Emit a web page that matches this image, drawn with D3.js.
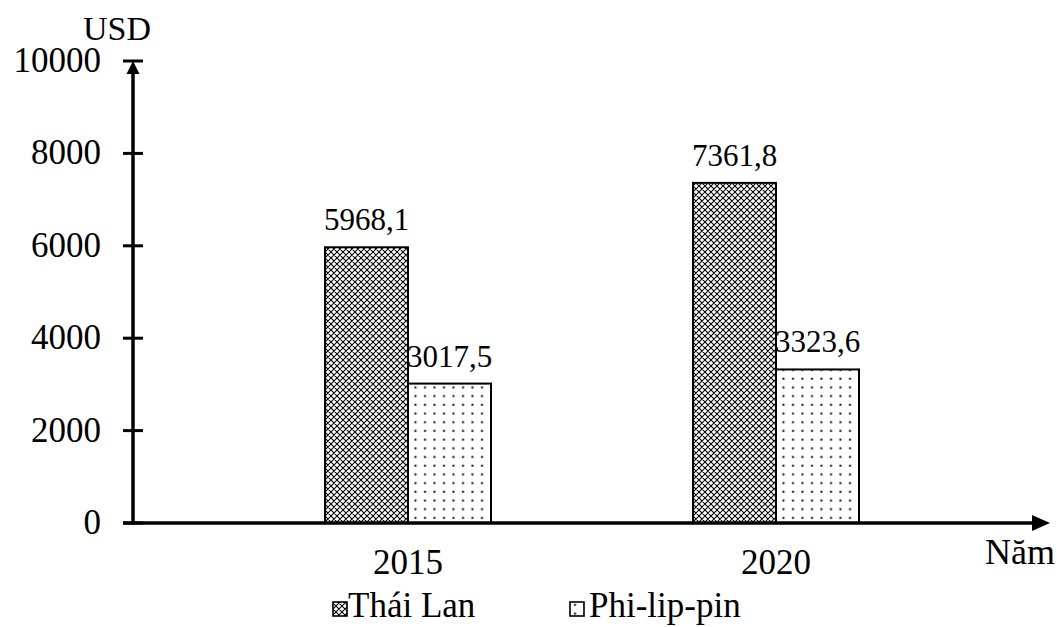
<!DOCTYPE html>
<html>
<head>
<meta charset="utf-8">
<script src="https://cdn.jsdelivr.net/npm/d3@7"></script>
<style>
  html, body { margin: 0; padding: 0; background: #fff; }
  svg { display: block; }
</style>
</head>
<body>
<svg id="chart" width="1057" height="627"></svg>
<script>
// GDP per capita (USD)
const years = ["2015", "2020"];
const seriesNames = ["Thái Lan", "Phi-lip-pin"];
const thaiLan = [5968.1, 7361.8];
const philippines = [3017.5, 3323.6];
const yTicks = [0, 2000, 4000, 6000, 8000, 10000];
const labelFmt = v => d3.format(".1f")(v).replace(".", ",");

const FONT = "Liberation Serif";
const svg = d3.select("#chart");

const x0 = 133, yBase = 523, yTop = 61;
const y = d3.scaleLinear().domain([0, 10000]).range([yBase, yTop]);
const x = d3.scaleBand().domain(years).range([224, 960]).padding(0);
const inner = d3.scaleBand().domain(seriesNames).range([0, 166]);
const barOffset = x.bandwidth() / 2 - 83;

// fill patterns
const defs = svg.append("defs");
const hatch = defs.append("pattern").attr("id", "pat-thai")
  .attr("patternUnits", "userSpaceOnUse").attr("width", 6).attr("height", 6);
hatch.append("rect").attr("width", 6).attr("height", 6).attr("fill", "#fff");
hatch.append("path").attr("d", "M0,0 L6,6 M6,0 L0,6 M-1,5 L1,7 M5,-1 L7,1 M-1,1 L1,-1 M5,7 L7,5")
  .attr("stroke", "#000").attr("stroke-width", 1.05);
hatch.append("rect").attr("x", 2.4).attr("y", 2.4).attr("width", 1.2).attr("height", 1.2).attr("fill", "#000");

const dots = defs.append("pattern").attr("id", "pat-phi")
  .attr("patternUnits", "userSpaceOnUse").attr("width", 9.5).attr("height", 8.7);
dots.append("rect").attr("width", 9.5).attr("height", 8.7).attr("fill", "#fff");
dots.append("rect").attr("x", 4).attr("y", 3.6).attr("width", 2).attr("height", 2).attr("fill", "#111");

const fills = { "Thái Lan": "url(#pat-thai)", "Phi-lip-pin": "url(#pat-phi)" };
const rows = years.map((yr, i) => ({ year: yr, values: [
  { name: seriesNames[0], v: thaiLan[i] },
  { name: seriesNames[1], v: philippines[i] }
]}));

function stext(sel, tx, ty, str, size, anchor) {
  return sel.append("text")
    .attr("x", tx).attr("y", ty)
    .attr("text-anchor", anchor || "middle")
    .attr("font-family", FONT)
    .attr("font-size", size)
    .attr("fill", "#000")
    .text(str);
}

// bars
const groups = svg.append("g").selectAll("g").data(rows).join("g")
  .attr("transform", d => `translate(${x(d.year) + barOffset},0)`);
groups.selectAll("rect").data(d => d.values).join("rect")
  .attr("x", d => inner(d.name))
  .attr("y", d => y(d.v))
  .attr("width", inner.bandwidth())
  .attr("height", d => yBase - y(d.v))
  .attr("fill", d => fills[d.name])
  .attr("stroke", "#000").attr("stroke-width", 2);

// value labels
groups.each(function (d) {
  const g = d3.select(this);
  d.values.forEach(v => {
    stext(g, inner(v.name) + inner.bandwidth() / 2, y(v.v) - 17, labelFmt(v.v), 31);
  });
});

// y axis with ticks crossing the line
svg.append("g").selectAll("line").data(yTicks).join("line")
  .attr("x1", x0 - 10).attr("x2", x0 + 10)
  .attr("y1", d => y(d)).attr("y2", d => y(d))
  .attr("stroke", "#000").attr("stroke-width", 3);
yTicks.forEach(t => stext(svg, 101, y(t) + 11, String(t), 35, "end"));

svg.append("line").attr("x1", x0).attr("x2", x0)
  .attr("y1", yBase + 1.5).attr("y2", yTop + 10)
  .attr("stroke", "#000").attr("stroke-width", 3.5);
svg.append("path")
  .attr("d", `M${x0},${yTop} L${x0 - 6.5},${yTop + 13} L${x0 + 6.5},${yTop + 13} Z`)
  .attr("fill", "#000");

// x axis
svg.append("line").attr("x1", x0 - 10).attr("x2", 1036)
  .attr("y1", yBase).attr("y2", yBase)
  .attr("stroke", "#000").attr("stroke-width", 3.5);
svg.append("path")
  .attr("d", `M1050,${yBase} L1032,${yBase - 8} L1032,${yBase + 8} Z`)
  .attr("fill", "#000");

years.forEach(yr => stext(svg, x(yr) + x.bandwidth() / 2, 574, yr, 35));

// axis titles
stext(svg, 83, 40, "USD", 34, "start");
stext(svg, 1055, 564, "Năm", 36, "end");

// legend
const legend = [
  { name: seriesNames[0], bx: 333, tx: 348 },
  { name: seriesNames[1], bx: 570, tx: 589 }
];
legend.forEach(l => {
  svg.append("rect").attr("x", l.bx).attr("y", 602).attr("width", 14).attr("height", 14)
    .attr("fill", fills[l.name]).attr("stroke", "#000").attr("stroke-width", 1.6);
  stext(svg, l.tx, 617, l.name, 35, "start");
});
</script>
</body>
</html>
